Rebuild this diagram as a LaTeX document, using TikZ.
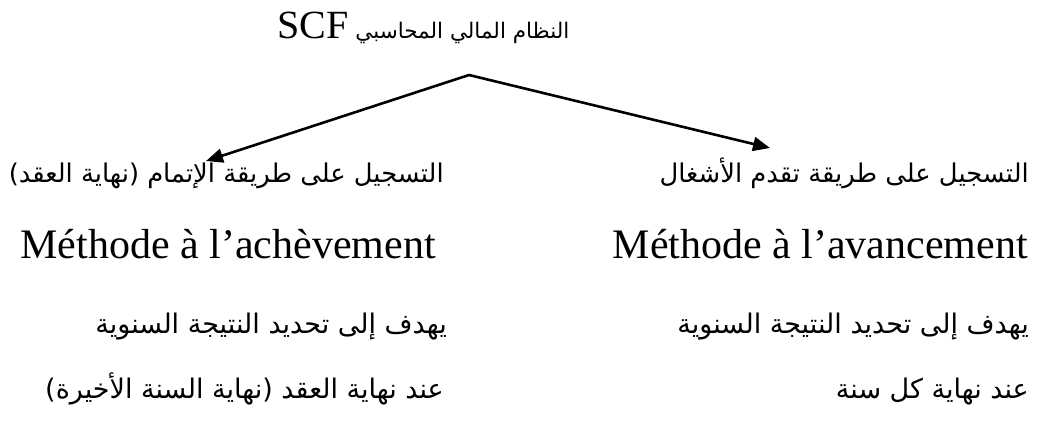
\documentclass[tikz,border=0pt]{standalone}
\usepackage{fontspec}
\setmainfont{Liberation Serif}
\newfontfamily\arabicfont[Script=Arabic]{DejaVu Sans}
\TeXXeTstate=1
\usetikzlibrary{arrows.meta}
\begin{document}
\begin{tikzpicture}[x=1pt,y=-1pt,
  lat/.style={inner sep=0pt, font=\fontsize{42}{50}\selectfont},
  ar/.style={inner sep=0pt, font=\arabicfont\fontsize{27}{32}\selectfont},
  arw/.style={inner sep=0pt, font=\arabicfont\fontsize{25.8}{31}\selectfont},
  conn/.style={line width=2.6pt, -{Triangle[length=17pt,width=14pt]}}]
\useasboundingbox (0,0) rectangle (1037,421);
% title
\node[inner sep=0pt, anchor=base west] (title) at (277,38) {\beginR{\arabicfont\fontsize{21.5}{26}\selectfont النظام المالي المحاسبي}\hspace{7pt}\beginL{\fontsize{40}{48}\selectfont SCF}\endL\endR};
% connector ends
\coordinate (apex) at (469,75);
\coordinate (ltip) at (206,161);
\coordinate (rtip) at (770,148);
\draw[conn] (apex) -- (ltip);
\draw[conn] (apex) -- (rtip);
% left column
\node[arw, anchor=base east] (l1) at (444,182) {\beginR التسجيل على طريقة الإتمام (نهاية العقد)\endR};
\node[lat, anchor=base east] (l2) at (436,258) {Méthode à l’achèvement};
\node[ar, anchor=base east] (l3) at (447,333) {\beginR يهدف إلى تحديد النتيجة السنوية\endR};
\node[ar, anchor=base east] (l4) at (444,398) {\beginR عند نهاية العقد (نهاية السنة الأخيرة)\endR};
% right column
\node[arw, anchor=base east] (r1) at (1029,182) {\beginR التسجيل على طريقة تقدم الأشغال\endR};
\node[lat, anchor=base east] (r2) at (1028,258) {Méthode à l’avancement};
\node[ar, anchor=base east] (r3) at (1029,333) {\beginR يهدف إلى تحديد النتيجة السنوية\endR};
\node[ar, anchor=base east] (r4) at (1029,398) {\beginR عند نهاية كل سنة\endR};
\end{tikzpicture}
\end{document}
